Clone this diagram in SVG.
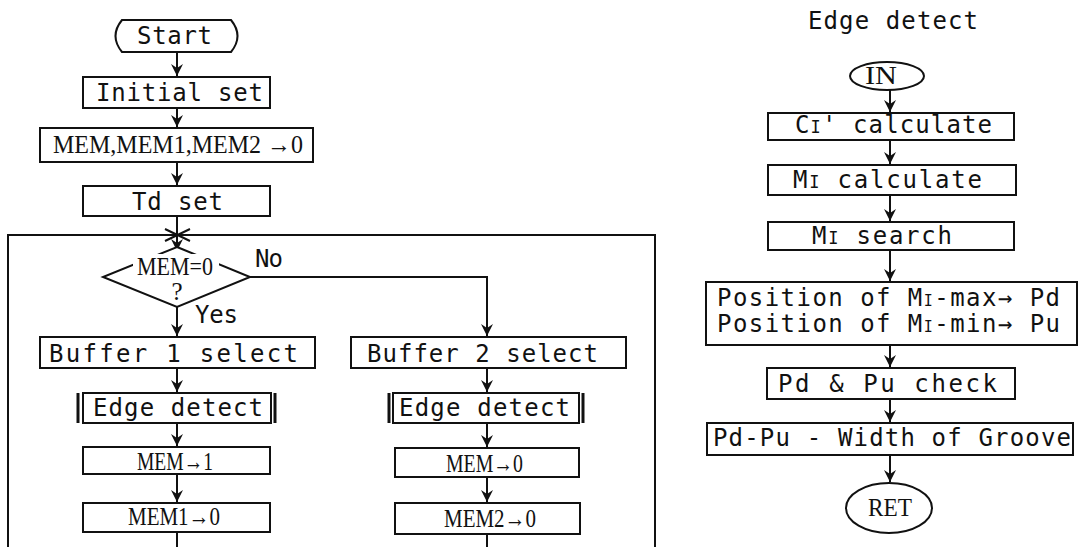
<svg xmlns="http://www.w3.org/2000/svg" width="1080" height="547" viewBox="0 0 1080 547">
<defs>
<style>
.b{fill:#fff;stroke:#111;stroke-width:2}
.bar{stroke:#111;stroke-width:3}
.m{font-family:"DejaVu Sans Mono","Liberation Mono",monospace;font-size:24px;fill:#111}
.s{font-family:"Liberation Serif","DejaVu Serif",serif;font-size:25px;fill:#111}
.c{fill:none;stroke:#111;stroke-width:2}
</style>
<marker id="a" markerUnits="userSpaceOnUse" markerWidth="14" markerHeight="14" refX="12" refY="7" orient="auto" viewBox="0 0 14 14">
<path d="M0,1 L12,7 L0,13 L4,7 Z" fill="#111"/>
</marker>
</defs>
<rect width="1080" height="547" fill="#fff"/>

<g id="connectors">
<path class="c" d="M177,52 V76" marker-end="url(#a)"/>
<path class="c" d="M177,108 V127" marker-end="url(#a)"/>
<path class="c" d="M177,162 V185" marker-end="url(#a)"/>
<path class="c" d="M177,216 V251" marker-end="url(#a)"/>
<path class="c" d="M8,547 V235 H655 V547"/>
<path class="c" d="M165,229 L190,241 M165,241 L190,229"/>
<path class="c" d="M177,307 V336" marker-end="url(#a)"/>
<path class="c" d="M250,277 H487 V336" marker-end="url(#a)"/>
<path class="c" d="M177,368 V392" marker-end="url(#a)"/>
<path class="c" d="M177,423 V446" marker-end="url(#a)"/>
<path class="c" d="M177,474 V502" marker-end="url(#a)"/>
<path class="c" d="M177,532 V547"/>
<path class="c" d="M487,368 V392" marker-end="url(#a)"/>
<path class="c" d="M487,423 V447" marker-end="url(#a)"/>
<path class="c" d="M487,477 V502" marker-end="url(#a)"/>
<path class="c" d="M487,534 V547"/>
<path class="c" d="M890,90 V112" marker-end="url(#a)"/>
<path class="c" d="M890,140 V164" marker-end="url(#a)"/>
<path class="c" d="M890,195 V221" marker-end="url(#a)"/>
<path class="c" d="M890,250 V281" marker-end="url(#a)"/>
<path class="c" d="M890,345 V367" marker-end="url(#a)"/>
<path class="c" d="M890,399 V422" marker-end="url(#a)"/>
<path class="c" d="M890,455 V482" marker-end="url(#a)"/>
</g>

<g id="start">
<path class="b" d="M122,20 H231 Q244,36 231,52 H122 Q109,36 122,20 Z"/>
<text class="m" x="137" y="44" textLength="75" lengthAdjust="spacing">Start</text>
</g>
<g id="initial-set">
<rect class="b" x="83" y="77" width="187" height="31"/>
<text class="m" x="96" y="101" textLength="167" lengthAdjust="spacing">Initial set</text>
</g>
<g id="mem-clear">
<rect class="b" x="40" y="128" width="273" height="34"/>
<text class="s" x="53" y="153" textLength="250" lengthAdjust="spacingAndGlyphs">MEM,MEM1,MEM2 →0</text>
</g>
<g id="td-set">
<rect class="b" x="83" y="186" width="187" height="30"/>
<text class="m" x="132" y="210" textLength="91" lengthAdjust="spacing">Td set</text>
</g>
<g id="decision">
<polygon class="b" points="177,247 250,277 177,307 103,277"/>
<rect x="133" y="254" width="86" height="21" fill="#fff"/>
<text class="s" x="137" y="275" textLength="76" lengthAdjust="spacingAndGlyphs">MEM=0</text>
<text class="s" x="177" y="300" text-anchor="middle" font-size="21">?</text>
<text class="m" x="255" y="267" textLength="28" lengthAdjust="spacing">No</text>
<text class="m" x="195" y="323" textLength="43" lengthAdjust="spacing">Yes</text>
</g>
<g id="buffer1">
<rect class="b" x="40" y="337" width="275" height="31"/>
<text class="m" x="49" y="362" textLength="249" lengthAdjust="spacing">Buffer 1  select</text>
</g>
<g id="buffer2">
<rect class="b" x="351" y="337" width="275" height="31"/>
<text class="m" x="367" y="362" textLength="231" lengthAdjust="spacing">Buffer 2 select</text>
</g>
<g id="edge1">
<rect class="b" x="83" y="393" width="188" height="30"/>
<line class="bar" x1="78" y1="393" x2="78" y2="423"/>
<line class="bar" x1="275" y1="393" x2="275" y2="423"/>
<text class="m" x="93" y="416" textLength="170" lengthAdjust="spacing">Edge detect</text>
</g>
<g id="edge2">
<rect class="b" x="393" y="393" width="186" height="30"/>
<line class="bar" x1="389" y1="393" x2="389" y2="423"/>
<line class="bar" x1="583" y1="393" x2="583" y2="423"/>
<text class="m" x="399" y="416" textLength="171" lengthAdjust="spacing">Edge detect</text>
</g>
<g id="mem-1">
<rect class="b" x="83" y="447" width="187" height="27"/>
<text class="s" x="137" y="470" textLength="76" lengthAdjust="spacingAndGlyphs">MEM→1</text>
</g>
<g id="mem1-0">
<rect class="b" x="83" y="503" width="187" height="29"/>
<text class="s" x="128" y="525" textLength="92" lengthAdjust="spacingAndGlyphs">MEM1→0</text>
</g>
<g id="mem-0">
<rect class="b" x="395" y="448" width="184" height="29"/>
<text class="s" x="446" y="472" textLength="77" lengthAdjust="spacingAndGlyphs">MEM→0</text>
</g>
<g id="mem2-0">
<rect class="b" x="395" y="503" width="185" height="31"/>
<text class="s" x="444" y="527" textLength="92" lengthAdjust="spacingAndGlyphs">MEM2→0</text>
</g>

<g id="title">
<text class="m" x="808" y="29" textLength="170" lengthAdjust="spacing">Edge detect</text>
</g>
<g id="in">
<ellipse class="b" cx="887" cy="76" rx="37" ry="14"/>
<text class="s" x="865" y="84" font-size="22" textLength="32" lengthAdjust="spacingAndGlyphs">IN</text>
</g>
<g id="ci-calc">
<rect class="b" x="768" y="113" width="246" height="27"/>
<text class="m" x="795" y="133" textLength="197" lengthAdjust="spacing">C<tspan font-size="17">I</tspan>' calculate</text>
</g>
<g id="mi-calc">
<rect class="b" x="768" y="165" width="248" height="30"/>
<text class="m" x="793" y="188" textLength="189" lengthAdjust="spacing">M<tspan font-size="17">I</tspan> calculate</text>
</g>
<g id="mi-search">
<rect class="b" x="768" y="222" width="246" height="28"/>
<text class="m" x="812" y="244" textLength="140" lengthAdjust="spacing">M<tspan font-size="17">I</tspan> search</text>
</g>
<g id="position">
<rect class="b" x="706" y="282" width="371" height="63"/>
<text class="m" x="717" y="306" font-size="21" textLength="343" lengthAdjust="spacing">Position of M<tspan font-size="15">I</tspan>-max→ Pd</text>
<text class="m" x="717" y="332" font-size="21" textLength="343" lengthAdjust="spacing">Position of M<tspan font-size="15">I</tspan>-min→ Pu</text>
</g>
<g id="check">
<rect class="b" x="767" y="368" width="248" height="31"/>
<text class="m" x="778" y="392" textLength="219" lengthAdjust="spacing">Pd &amp; Pu  check</text>
</g>
<g id="width">
<rect class="b" x="707" y="423" width="366" height="32"/>
<text class="m" x="713" y="446" textLength="358" lengthAdjust="spacing">Pd-Pu - Width of Groove</text>
</g>
<g id="ret">
<ellipse class="b" cx="889" cy="508" rx="43" ry="25"/>
<text class="s" x="868" y="516" font-size="25" textLength="44" lengthAdjust="spacingAndGlyphs">RET</text>
</g>
</svg>
